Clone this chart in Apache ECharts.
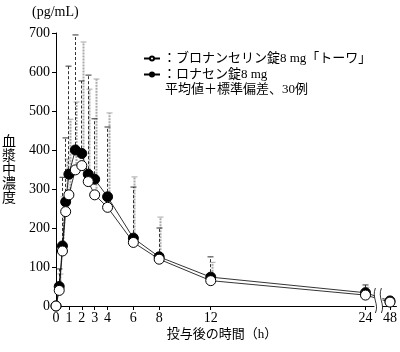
<!DOCTYPE html>
<html>
<head>
<meta charset="utf-8">
<script src="https://cdn.jsdelivr.net/npm/echarts@6/dist/echarts.min.js"></script>
<style>
html, body { margin: 0; padding: 0; background: #fff; }
#view { width: 400px; height: 352px; }
</style>
</head>
<body>
<div id="view"></div>
<script>
// sampling times (h)
var times = [0, 0.25, 0.5, 0.75, 1, 1.5, 2, 2.5, 3, 4, 6, 8, 12, 24, 48];
var tickTimes = [0, 1, 2, 3, 4, 6, 8, 12, 24, 48];
// ブロナンセリン錠8mg「トーワ」 (open circles): mean and mean+SD
var genericMean = [0, 40, 141, 242, 285, 349, 360, 319, 285, 253, 163, 120, 65, 28, 10];
var genericTop = [0, 82, 280, 377, 479, 523, 677, 556, 582, 495, 331, 228, 112, 48, 13];
// ロナセン錠8mg (filled circles)
var brandMean = [0, 50, 154, 267, 338, 400, 391, 338, 325, 280, 174, 126, 74, 34, 13];
var brandTop = [0, 95, 330, 431, 615, 695, 577, 592, 480, 459, 305, 200, 126, 54, 16];

var genericName = 'ブロナンセリン錠8 mg「トーワ」';
var brandName = 'ロナセン錠8 mg';
var serif = "'Liberation Serif', 'DejaVu Serif', 'Noto Sans CJK JP'";
var jp = "'Liberation Serif', 'Noto Sans CJK JP'";

// the axis is broken between 24 h and 48 h
var breakAt = 25.0;
function pos(t) { return t > 24 ? 25.9 : t; }

function meanSeries(name, mean, fill, z) {
    return {
        name: name,
        type: 'line',
        z: z,
        data: times.map(function (t, i) { return [pos(t), mean[i]]; }),
        symbol: 'circle',
        symbolSize: 10,
        lineStyle: { color: '#000', width: 0.8 },
        itemStyle: { color: fill, borderColor: '#000', borderWidth: 1 },
        emphasis: { disabled: true }
    };
}

function sdSeries(mean, top, color, width, dash, shift) {
    var data = [];
    times.forEach(function (t, i) {
        if (top[i] > mean[i]) data.push([pos(t), mean[i], top[i]]);
    });
    return {
        type: 'custom',
        z: 1,
        silent: true,
        data: data,
        encode: { x: 0, y: [1, 2] },
        renderItem: function (params, api) {
            var p0 = api.coord([api.value(0), api.value(1)]);
            var p1 = api.coord([api.value(0), api.value(2)]);
            var x = Math.round(p0[0] + shift) + 0.5;
            return {
                type: 'group',
                children: [
                    { type: 'line', shape: { x1: x, y1: p0[1], x2: x, y2: p1[1] },
                      style: { stroke: color, lineWidth: width, lineDash: dash } },
                    { type: 'line', shape: { x1: x - 3, y1: p1[1], x2: x + 3, y2: p1[1] },
                      style: { stroke: color, lineWidth: 1 } }
                ]
            };
        }
    };
}

var myChart = echarts.init(document.getElementById('view'));

option = {
    animation: false,
    grid: { left: 56, right: 1, top: 33, bottom: 46 },
    legend: {
        orient: 'vertical',
        left: 138,
        top: 47,
        itemGap: 3,
        itemWidth: 16,
        itemHeight: 5,
        data: [genericName, brandName],
        formatter: function (name) { return '：' + name; },
        textStyle: { fontFamily: jp, fontSize: 13, color: '#000', padding: [0, 0, 0, -2] }
    },
    graphic: [
        { type: 'text', left: 32, top: 5,
          style: { text: '(pg/mL)', font: '14px ' + serif, fill: '#000' } },
        { type: 'text', left: 165, top: 83,
          style: { text: '平均値＋標準偏差、30例', font: '13px ' + jp, fill: '#000' } },
        { type: 'text', x: 9, y: 170,
          style: { text: '血\n漿\n中\n濃\n度', font: '14px ' + jp, lineHeight: 14,
                   fill: '#000', align: 'center', verticalAlign: 'middle' } },
        { type: 'text', x: 222, y: 335,
          style: { text: '投与後の時間（h）', font: '13px ' + jp, fill: '#000',
                   align: 'center', verticalAlign: 'middle' } }
    ],
    xAxis: {
        type: 'value',
        min: 0,
        max: 26.4,
        splitLine: { show: false },
        axisLine: { lineStyle: { color: '#000', width: 1 } },
        axisTick: { length: 4, lineStyle: { color: '#000' },
                    customValues: tickTimes.map(pos) },
        axisLabel: {
            customValues: tickTimes.map(pos),
            margin: 5,
            color: '#000',
            fontFamily: serif,
            fontSize: 14,
            formatter: function (v) { return v > 24 ? '48' : String(v); }
        }
    },
    yAxis: {
        type: 'value',
        min: 0,
        max: 700,
        interval: 100,
        splitLine: { show: false },
        axisLine: { show: true, lineStyle: { color: '#000', width: 1 } },
        axisTick: { show: true, length: 4, lineStyle: { color: '#000' } },
        axisLabel: { margin: 6, color: '#000', fontFamily: serif, fontSize: 14 }
    },
    series: [
        sdSeries(genericMean, genericTop, '#aaa', 2, [2, 1], 1),
        sdSeries(brandMean, brandTop, '#333', 1, [3, 2], -0.5),
        meanSeries(brandName, brandMean, '#000', 3),
        meanSeries(genericName, genericMean, '#fff', 4),
        {
            type: 'custom',
            z: 10,
            silent: true,
            data: [[breakAt, 0]],
            renderItem: function (params, api) {
                var p = api.coord([api.value(0), api.value(1)]);
                var x = p[0], y = p[1];
                var st = { stroke: '#000', lineWidth: 0.8, fill: 'none' };
                return {
                    type: 'group',
                    children: [
                        { type: 'rect', shape: { x: x - 4, y: y - 20, width: 8, height: 28 },
                          style: { fill: '#fff' } },
                        { type: 'bezierCurve',
                          shape: { x1: x - 3, y1: y - 18, x2: x - 3, y2: y + 7,
                                   cpx1: x - 7, cpy1: y - 8, cpx2: x + 1, cpy2: y - 2 }, style: st },
                        { type: 'bezierCurve',
                          shape: { x1: x + 3, y1: y - 18, x2: x + 3, y2: y + 7,
                                   cpx1: x - 1, cpy1: y - 8, cpx2: x + 7, cpy2: y - 2 }, style: st }
                    ]
                };
            }
        }
    ]
};

myChart.setOption(option);
</script>
</body>
</html>
